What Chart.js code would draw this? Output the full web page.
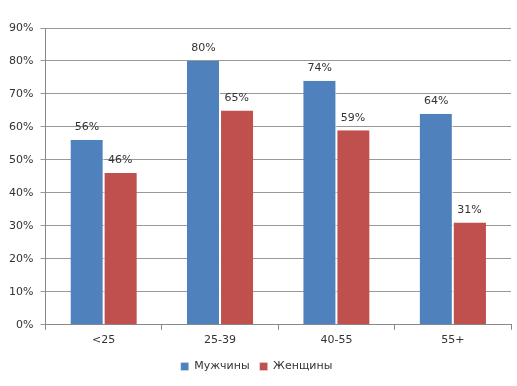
<!DOCTYPE html>
<html>
<head>
<meta charset="utf-8">
<script src="https://cdn.jsdelivr.net/npm/chart.js@4/dist/chart.umd.min.js"></script>
<style>
  html, body { margin: 0; padding: 0; background: #fff; }
  #wrap { width: 517px; height: 386px; }
</style>
</head>
<body>
<div id="wrap"><canvas id="chart"></canvas></div>
<script>
// Chart data
const categories = ['<25', '25-39', '40-55', '55+'];
const menValues = [56, 80, 74, 64];
const womenValues = [46, 65, 59, 31];
const seriesNames = ['Мужчины', 'Женщины'];

// Draw value labels above each bar
const valueLabels = {
    id: 'valueLabels',
    afterDatasetsDraw(chart) {
        const ctx = chart.ctx;
        ctx.save();
        ctx.font = '11px "DejaVu Sans", sans-serif';
        ctx.fillStyle = '#333';
        ctx.textAlign = 'center';
        ctx.textBaseline = 'bottom';
        chart.data.datasets.forEach((ds, i) => {
            chart.getDatasetMeta(i).data.forEach((bar, j) => {
                ctx.fillText(ds.data[j] + '%', bar.x, bar.y - 7);
            });
        });
        ctx.restore();
    }
};

new Chart(document.getElementById('chart'), {
    type: 'bar',
    data: {
        labels: categories,
        datasets: [{
            label: seriesNames[0],
            data: menValues,
            backgroundColor: '#4F81BD',
            borderColor: '#ffffff',
            borderWidth: { left: 0, right: 1, top: 0, bottom: 0 },
            borderSkipped: false
        }, {
            label: seriesNames[1],
            data: womenValues,
            backgroundColor: '#C0504D',
            borderColor: '#ffffff',
            borderWidth: { left: 1, right: 0, top: 0, bottom: 0 },
            borderSkipped: false
        }]
    },
    options: {
        responsive: true,
        maintainAspectRatio: false,
        animation: false,
        layout: {
            padding: { top: 28, right: 6, left: 2, bottom: 4 }
        },
        plugins: {
            legend: {
                position: 'bottom',
                labels: {
                    boxWidth: 8,
                    boxHeight: 8,
                    padding: 10,
                    color: '#333',
                    font: { size: 11, family: '"DejaVu Sans", sans-serif' }
                }
            },
            tooltip: { enabled: false }
        },
        datasets: {
            bar: {
                categoryPercentage: 0.57,
                barPercentage: 1.0
            }
        },
        scales: {
            x: {
                grid: {
                    display: true,
                    drawOnChartArea: false,
                    offset: true,
                    tickLength: 5,
                    color: '#888'
                },
                border: { color: '#888' },
                ticks: {
                    color: '#333',
                    padding: 4,
                    font: { size: 11, family: '"DejaVu Sans", sans-serif' }
                }
            },
            y: {
                min: 0,
                max: 90,
                grid: {
                    color: '#999',
                    tickLength: 5
                },
                border: { color: '#888' },
                ticks: {
                    stepSize: 10,
                    color: '#333',
                    padding: 7,
                    font: { size: 11, family: '"DejaVu Sans", sans-serif' },
                    callback: function(value) {
                        return value + '%';
                    }
                }
            }
        }
    },
    plugins: [valueLabels]
});
</script>
</body>
</html>
